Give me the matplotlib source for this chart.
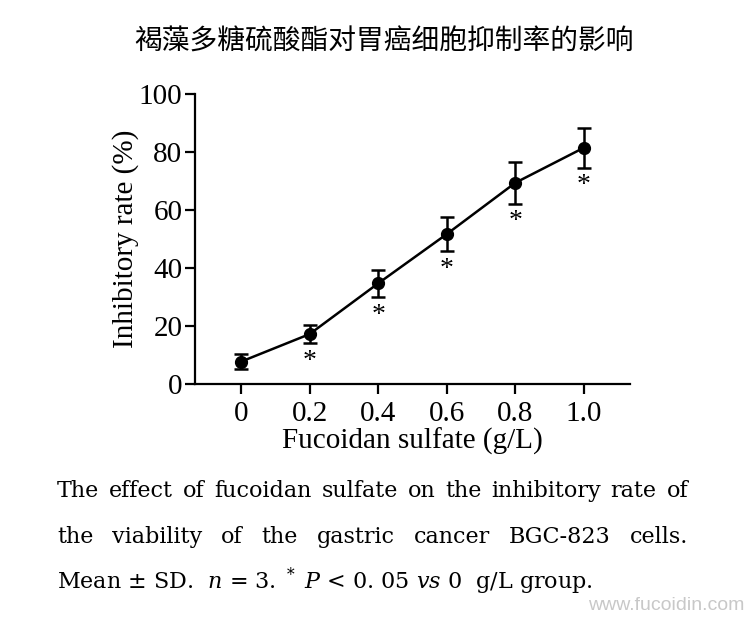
import matplotlib
matplotlib.use("Agg")
import matplotlib.pyplot as plt

plt.rcParams['font.family'] = ['Liberation Serif', 'DejaVu Serif']
plt.rcParams['mathtext.fontset'] = 'custom'
plt.rcParams['mathtext.rm'] = 'DejaVu Serif'
plt.rcParams['mathtext.it'] = 'DejaVu Serif:italic'

# data
dose = [0, 0.2, 0.4, 0.6, 0.8, 1.0]
rate = [7.7, 17.2, 34.7, 51.7, 69.4, 81.5]
sd = [2.5, 3.2, 4.7, 6.0, 7.2, 6.9]
signif = [False, True, True, True, True, True]
xticks = [0, 0.2, 0.4, 0.6, 0.8, 1.0]
xticklabels = ['0', '0.2', '0.4', '0.6', '0.8', '1.0']
yticks = [0, 20, 40, 60, 80, 100]

title = '褐藻多糖硫酸酯对胃癌细胞抑制率的影响'
caption = [
    'The effect of fucoidan sulfate on the inhibitory rate of',
    'the viability of the gastric cancer BGC-823 cells.',
]
caption_last = r'Mean ± SD.  $n$ = 3. $^*$ $P$ < 0. 05 $vs$ 0  g/L group.'

fig = plt.figure(figsize=(7.5, 6.17), dpi=100)
ax = fig.add_axes([195 / 750, 1 - 384 / 617, 435 / 750, 290 / 617])

ax.errorbar(dose, rate, yerr=sd, color='black', lw=1.8, marker='o', ms=8.5,
            capsize=5, elinewidth=1.8, capthick=1.8)
for x, y, e, s in zip(dose, rate, sd, signif):
    if s:
        ax.annotate('*', (x, y - e), xytext=(0, -4), textcoords='offset points',
                    ha='center', va='top', fontsize=20)

ax.set_xlim(-0.134, 1.134)
ax.set_ylim(0, 100)
ax.set_xticks(xticks)
ax.set_xticklabels(xticklabels)
ax.set_yticks(yticks)
ax.set_yticklabels([str(v) for v in yticks])
for side in ['top', 'right']:
    ax.spines[side].set_visible(False)
for side in ['left', 'bottom']:
    ax.spines[side].set_linewidth(1.6)
ax.tick_params(direction='out', length=7, width=1.6, labelsize=21)
ax.tick_params(axis='y', pad=2)
ax.tick_params(axis='x', pad=5)
ax.set_xlabel('Fucoidan sulfate (g/L)', fontsize=21, labelpad=1)
ax.set_ylabel('Inhibitory rate (%)', fontsize=21, labelpad=0)

fig.text(384 / 750, 1 - 42 / 617, title, ha='center', va='center', fontsize=20,
         family=['Noto Sans CJK SC', 'DejaVu Sans'])

# justified caption lines
fig.canvas.draw()
r = fig.canvas.get_renderer()
x0, x1 = 57 / 750, 688 / 750
for i, line in enumerate(caption):
    yb = 1 - (497 + 46 * i) / 617
    words = line.split()
    ts = [fig.text(0, yb, w, fontsize=16, va='baseline', family='DejaVu Serif')
          for w in words]
    widths = [t.get_window_extent(r).width / fig.bbox.width for t in ts]
    gap = (x1 - x0 - sum(widths)) / (len(words) - 1)
    x = x0
    for t, w in zip(ts, widths):
        t.set_x(x)
        x += w + gap
fig.text(x0, 1 - 589 / 617, caption_last, fontsize=16, va='baseline',
         family='DejaVu Serif')

fig.text(0.993, 1 - 606 / 617, 'www.fucoidin.com', ha='right', va='center',
         fontsize=14, color='#c8c8c8', family='Liberation Sans')

fig.savefig('out.png', dpi=100)
